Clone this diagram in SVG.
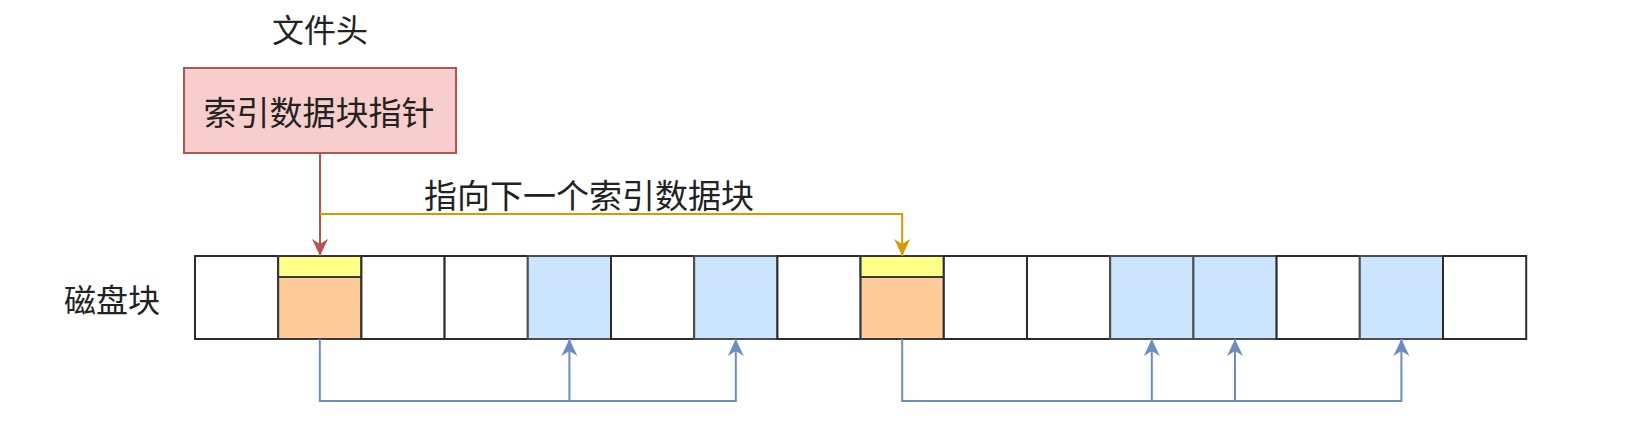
<svg xmlns="http://www.w3.org/2000/svg" width="1644" height="444" viewBox="0 0 1644 444">
<style>
  text { font-family: "Noto Sans CJK SC", "Noto Sans", sans-serif; fill: #222; text-anchor: middle; dominant-baseline: central; }
  .cell { fill: #ffffff; stroke: #2b2b2b; stroke-width: 2; }
  .blue { fill: #cce5ff; stroke: #4d4d4d; stroke-width: 2; }
  .orange { fill: #ffcc99; stroke: #36393d; stroke-width: 2; }
  .yellow { fill: #ffff88; stroke: #36393d; stroke-width: 2; }
  .conn { fill: none; stroke-width: 2; }
</style>
<defs>
  <marker id="arrRed" markerUnits="userSpaceOnUse" markerWidth="18" markerHeight="18" viewBox="0 0 18 18" refX="17" refY="9" orient="auto">
    <path d="M0,1 L17,9 L0,17 L5,9 z" fill="#b85450"/>
  </marker>
  <marker id="arrYellow" markerUnits="userSpaceOnUse" markerWidth="18" markerHeight="18" viewBox="0 0 18 18" refX="17" refY="9" orient="auto">
    <path d="M0,1 L17,9 L0,17 L5,9 z" fill="#d79b00"/>
  </marker>
  <marker id="arrBlue" markerUnits="userSpaceOnUse" markerWidth="18" markerHeight="18" viewBox="0 0 18 18" refX="17" refY="9" orient="auto">
    <path d="M0,1 L17,9 L0,17 L5,9 z" fill="#6c8ebf"/>
  </marker>
</defs>
<rect width="1644" height="444" fill="#ffffff"/>

<g id="file-header-label">
  <text x="320" y="28" font-size="32">文件头</text>
</g>
<g id="index-pointer">
  <rect x="184" y="68" width="272" height="85" fill="#f8cecc" stroke="#b85450" stroke-width="2"/>
  <text x="319" y="111" font-size="33">索引数据块指针</text>
</g>
<g id="next-label">
  <text x="589" y="194" font-size="33">指向下一个索引数据块</text>
</g>
<g id="disk-label">
  <text x="112" y="298" font-size="32">磁盘块</text>
</g>

<g id="disk-blocks">
  <g id="block-0"><rect class="cell" x="195" y="256" width="83.2" height="83"/></g>
  <g id="block-1"><rect class="orange" x="278.2" y="256" width="83.2" height="83"/><rect class="yellow" x="278.2" y="256" width="83.2" height="21"/></g>
  <g id="block-2"><rect class="cell" x="361.4" y="256" width="83.2" height="83"/></g>
  <g id="block-3"><rect class="cell" x="444.6" y="256" width="83.2" height="83"/></g>
  <g id="block-4"><rect class="blue" x="527.8" y="256" width="83.2" height="83"/></g>
  <g id="block-5"><rect class="cell" x="611" y="256" width="83.2" height="83"/></g>
  <g id="block-6"><rect class="blue" x="694.2" y="256" width="83.2" height="83"/></g>
  <g id="block-7"><rect class="cell" x="777.4" y="256" width="83.2" height="83"/></g>
  <g id="block-8"><rect class="orange" x="860.6" y="256" width="83.2" height="83"/><rect class="yellow" x="860.6" y="256" width="83.2" height="21"/></g>
  <g id="block-9"><rect class="cell" x="943.8" y="256" width="83.2" height="83"/></g>
  <g id="block-10"><rect class="cell" x="1027" y="256" width="83.2" height="83"/></g>
  <g id="block-11"><rect class="blue" x="1110.2" y="256" width="83.2" height="83"/></g>
  <g id="block-12"><rect class="blue" x="1193.4" y="256" width="83.2" height="83"/></g>
  <g id="block-13"><rect class="cell" x="1276.6" y="256" width="83.2" height="83"/></g>
  <g id="block-14"><rect class="blue" x="1359.8" y="256" width="83.2" height="83"/></g>
  <g id="block-15"><rect class="cell" x="1443" y="256" width="83.2" height="83"/></g>
</g>

<g id="connectors">
  <path class="conn" stroke="#b85450" d="M320,153 V256" marker-end="url(#arrRed)"/>
  <path class="conn" stroke="#d79b00" d="M320,214 H902.2 V256" marker-end="url(#arrYellow)"/>
  <path class="conn" stroke="#6c8ebf" d="M319.8,339 V401 H569.4 V339" marker-end="url(#arrBlue)"/>
  <path class="conn" stroke="#6c8ebf" d="M569.4,401 H735.8 V339" marker-end="url(#arrBlue)"/>
  <path class="conn" stroke="#6c8ebf" d="M902.2,339 V401 H1151.8 V339" marker-end="url(#arrBlue)"/>
  <path class="conn" stroke="#6c8ebf" d="M1151.8,401 H1235 V339" marker-end="url(#arrBlue)"/>
  <path class="conn" stroke="#6c8ebf" d="M1235,401 H1401.4 V339" marker-end="url(#arrBlue)"/>
</g>
</svg>
